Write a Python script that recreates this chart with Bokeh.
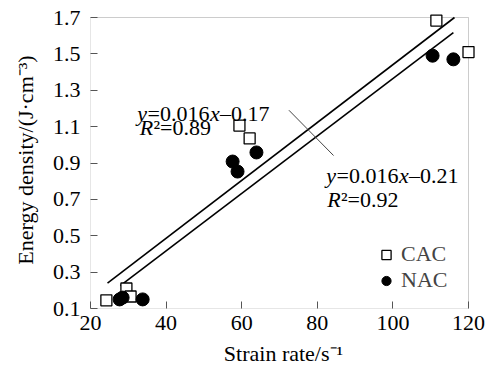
from bokeh.plotting import figure
from bokeh.models import Label, Range1d, FixedTicker, Legend, LegendItem, BoxAnnotation
from bokeh.embed import file_html
from bokeh.resources import INLINE

# ---- data ----
cac_x = [24.2, 29.5, 30.6, 59.4, 62.1, 111.5, 120.0]
cac_y = [0.145, 0.21, 0.166, 1.106, 1.035, 1.683, 1.51]
nac_x = [27.7, 28.5, 33.8, 57.6, 58.9, 63.9, 110.5, 116.0]
nac_y = [0.15, 0.16, 0.15, 0.908, 0.853, 0.958, 1.49, 1.47]

# fitted lines (endpoints as drawn)
fit1_x = [24.5, 116.3]   # y = 0.016x - 0.17
fit1_y = [0.24, 1.70]
fit2_x = [27.9, 116.0]   # y = 0.016x - 0.21
fit2_y = [0.226, 1.617]

x_ticks = [20, 40, 60, 80, 100, 120]
y_ticks = [0.1, 0.3, 0.5, 0.7, 0.9, 1.1, 1.3, 1.5, 1.7]

FONT = "Liberation Serif"
FS = 22
FS_EQ = 22

# axes limits 20..120 / 0.1..1.7; frame slightly larger so markers on the border are not clipped
p = figure(frame_width=386, frame_height=297, output_backend="svg", toolbar_location=None,
           x_range=Range1d(20, 122.116), y_range=Range1d(0.1, 1.733),
           min_border_left=90, min_border_right=10, min_border_top=11,
           min_border_bottom=66)
p.grid.visible = False
p.background_fill_color = "white"
p.border_fill_color = "white"
p.outline_line_color = None

for ax in (p.xaxis[0], p.yaxis[0]):
    ax.major_tick_in = 7
    ax.major_tick_out = 0
    ax.minor_tick_line_color = None
    ax.axis_line_color = None
    ax.major_tick_line_color = "#555555"
    ax.major_label_text_font = FONT
    ax.major_label_text_font_size = f"{FS}px"
    ax.major_label_text_color = "black"
    ax.axis_label_text_font = FONT
    ax.axis_label_text_font_style = "normal"
    ax.axis_label_text_color = "black"
    ax.axis_label_text_font_size = f"{FS}px"

p.xaxis.ticker = FixedTicker(ticks=x_ticks)
p.yaxis.ticker = FixedTicker(ticks=y_ticks)
p.xaxis.major_label_standoff = 7
p.yaxis.major_label_standoff = 10
p.xaxis.axis_label = "Strain rate/s⁻¹"
p.yaxis.axis_label = "Energy density/(J·cm⁻³)"
p.xaxis.axis_label_standoff = 8
p.yaxis.axis_label_standoff = 12

# plot border box
p.add_layout(BoxAnnotation(left=x_ticks[0], right=x_ticks[-1], bottom=y_ticks[0], top=y_ticks[-1],
                           fill_alpha=0, line_color="#555555", line_width=1, level="underlay"))

# fit lines
p.line(fit1_x, fit1_y, line_color="black", line_width=1.6)
p.line(fit2_x, fit2_y, line_color="black", line_width=1.6)
# leader line
p.line([72.5, 84.3], [1.19, 0.941], line_color="#444444", line_width=1)

r_cac = p.scatter(cac_x, cac_y, marker="square", size=11, fill_color="white",
                  line_color="black", line_width=1.3)
r_nac = p.scatter(nac_x, nac_y, marker="circle", size=13, fill_color="black",
                  line_color="black")

legend = Legend(items=[LegendItem(label="CAC", renderers=[r_cac]),
                       LegendItem(label="NAC", renderers=[r_nac])],
                location=(284, 15), padding=0, margin=0, spacing=0,
                glyph_width=24, glyph_height=23, label_standoff=3,
                label_text_font=FONT, label_text_font_size=f"{FS}px",
                border_line_color=None, background_fill_alpha=0)
p.add_layout(legend)

# equation labels built from pieces (italic variables)
EM = FS_EQ
def piece(x, y, parts):
    off = 0.0
    for txt, italic, w in parts:
        p.add_layout(Label(x=x, y=y, x_offset=off, text=txt, text_font=FONT,
                           text_font_size=f"{FS_EQ}px",
                           text_font_style="italic" if italic else "normal",
                           text_baseline="alphabetic", text_align="left",
                           text_color="black"))
        off += w * EM

piece(32.4, 1.172, [("y", True, 0.46), ("=0.016", False, 2.84),
                    ("x", True, 0.46), ("–0.17", False, 2.25)])
piece(33.0, 1.095, [("R", True, 0.63), ("²=0.89", False, 2.5)])
piece(82.4, 0.831, [("y", True, 0.46), ("=0.016", False, 2.84),
                    ("x", True, 0.46), ("–0.21", False, 2.25)])
piece(82.6, 0.699, [("R", True, 0.63), ("²=0.92", False, 2.5)])

open("out.html", "w").write(file_html(p, INLINE))
